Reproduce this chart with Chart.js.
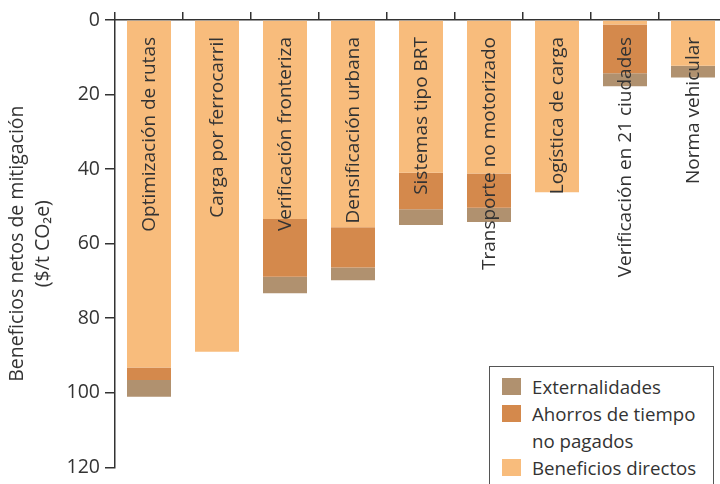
<!DOCTYPE html>
<html>
<head>
<meta charset="utf-8">
<script src="https://cdn.jsdelivr.net/npm/chart.js@4/dist/chart.umd.min.js"></script>
<style>
    html, body { margin: 0; padding: 0; background: #fff; overflow: hidden; }
    #wrap { position: relative; width: 720px; height: 484px; overflow: hidden; }
    #chart { position: absolute; left: 0; top: 0; }
    #legend {
        position: absolute; left: 489px; top: 366px; width: 225px; height: 130px;
        border: 1px solid #555; box-sizing: border-box; background: #fff;
        font-family: "Open Sans", sans-serif; font-size: 18.7px; color: #333;
        padding: 6px 0 0 12px; line-height: 27px;
    }
    #legend .item { position: relative; padding-left: 30px; }
    #legend .box { position: absolute; left: 0; top: 5px; width: 19px; height: 17px; }
</style>
</head>
<body>
<div id="wrap">
    <canvas id="chart" width="740" height="484"></canvas>
    <div id="legend"></div>
</div>
<script>
    // Categories (drawn as rotated labels inside the bars)
    const categories = [
        "Optimización de rutas",
        "Carga por ferrocarril",
        "Verificación fronteriza",
        "Densificación urbana",
        "Sistemas tipo BRT",
        "Transporte no motorizado",
        "Logística de carga",
        "Verificación en 21 ciudades",
        "Norma vehicular",
    ];

    // Series values ($/t CO2e)
    const beneficiosDirectos = [93.2, 89.0, 53.4, 55.6, 41.0, 41.2, 46.2, 1.2, 12.3];
    const ahorrosTiempo = [3.4, 0, 15.5, 10.8, 9.8, 9.2, 0, 13.1, 0];
    const externalidades = [4.5, 0, 4.4, 3.4, 4.2, 3.8, 0, 3.5, 3.1];

    // Axis
    const yMin = 0;
    const yMax = 120;
    const yStep = 20;
    const yTitle = ["Beneficios netos de mitigación", "($/t CO₂e)"];

    const seriesNames = ["Beneficios directos", "Ahorros de tiempo\nno pagados", "Externalidades"];
    const seriesColors = ["#f8bc7c", "#d4894c", "#b0916f"];

    const textColor = "#333333";
    const axisColor = "#333333";
    const fontFamily = "'Open Sans', sans-serif";

    // Labels written vertically inside each bar
    const barLabels = {
        id: "barLabels",
        afterDatasetsDraw(chart) {
            const { ctx, scales } = chart;
            ctx.save();
            ctx.font = "19px " + fontFamily;
            ctx.fillStyle = textColor;
            ctx.textAlign = "right";
            ctx.textBaseline = "middle";
            categories.forEach((label, i) => {
                ctx.save();
                ctx.translate(scales.x.getPixelForValue(i) + 1, scales.y.getPixelForValue(0) + 17);
                ctx.rotate(-Math.PI / 2);
                ctx.fillText(label, 0, 0);
                ctx.restore();
            });
            ctx.restore();
        },
    };

    const data = [beneficiosDirectos, ahorrosTiempo, externalidades];

    const chart = new Chart(document.getElementById("chart"), {
        type: "bar",
        data: {
            labels: categories,
            datasets: data.map((values, i) => ({
                label: seriesNames[i],
                data: values,
                backgroundColor: seriesColors[i],
                borderWidth: 0,
                categoryPercentage: 1,
                barPercentage: 0.647,
            })),
        },
        options: {
            responsive: false,
            animation: false,
            layout: { padding: { left: 0, top: 0, right: 13, bottom: 12 } },
            plugins: {
                legend: { display: false },
                tooltip: { enabled: false },
            },
            scales: {
                x: {
                    position: "top",
                    stacked: true,
                    ticks: { display: false },
                    grid: {
                        drawOnChartArea: false,
                        drawTicks: true,
                        tickLength: 8,
                        color: axisColor,
                        lineWidth: 1.5,
                    },
                    border: { color: axisColor, width: 1.5 },
                    afterFit: (scale) => { scale.height = 20; },
                },
                y: {
                    stacked: true,
                    reverse: true,
                    min: yMin,
                    max: yMax,
                    ticks: {
                        stepSize: yStep,
                        color: textColor,
                        font: { family: fontFamily, size: 19.5 },
                        padding: 5,
                    },
                    grid: {
                        drawOnChartArea: false,
                        drawTicks: true,
                        tickLength: 10,
                        color: axisColor,
                        lineWidth: 1.5,
                    },
                    border: { color: axisColor, width: 1.5 },
                    title: {
                        display: true,
                        text: yTitle,
                        color: textColor,
                        font: { family: fontFamily, size: 19.5, lineHeight: 1.3 },
                        padding: { top: 5, bottom: 0 },
                    },
                    afterFit: (scale) => { scale.width = 115; },
                },
            },
        },
        plugins: [barLabels],
    });

    // HTML legend, top to bottom as in the stack (reverse order)
    const legendEl = document.getElementById("legend");
    seriesNames.slice().reverse().forEach((name, k) => {
        const i = seriesNames.length - 1 - k;
        const item = document.createElement("div");
        item.className = "item";
        const box = document.createElement("span");
        box.className = "box";
        box.style.background = seriesColors[i];
        item.appendChild(box);
        name.split("\n").forEach((line, j) => {
            if (j > 0) item.appendChild(document.createElement("br"));
            item.appendChild(document.createTextNode(line));
        });
        legendEl.appendChild(item);
    });
</script>
</body>
</html>
